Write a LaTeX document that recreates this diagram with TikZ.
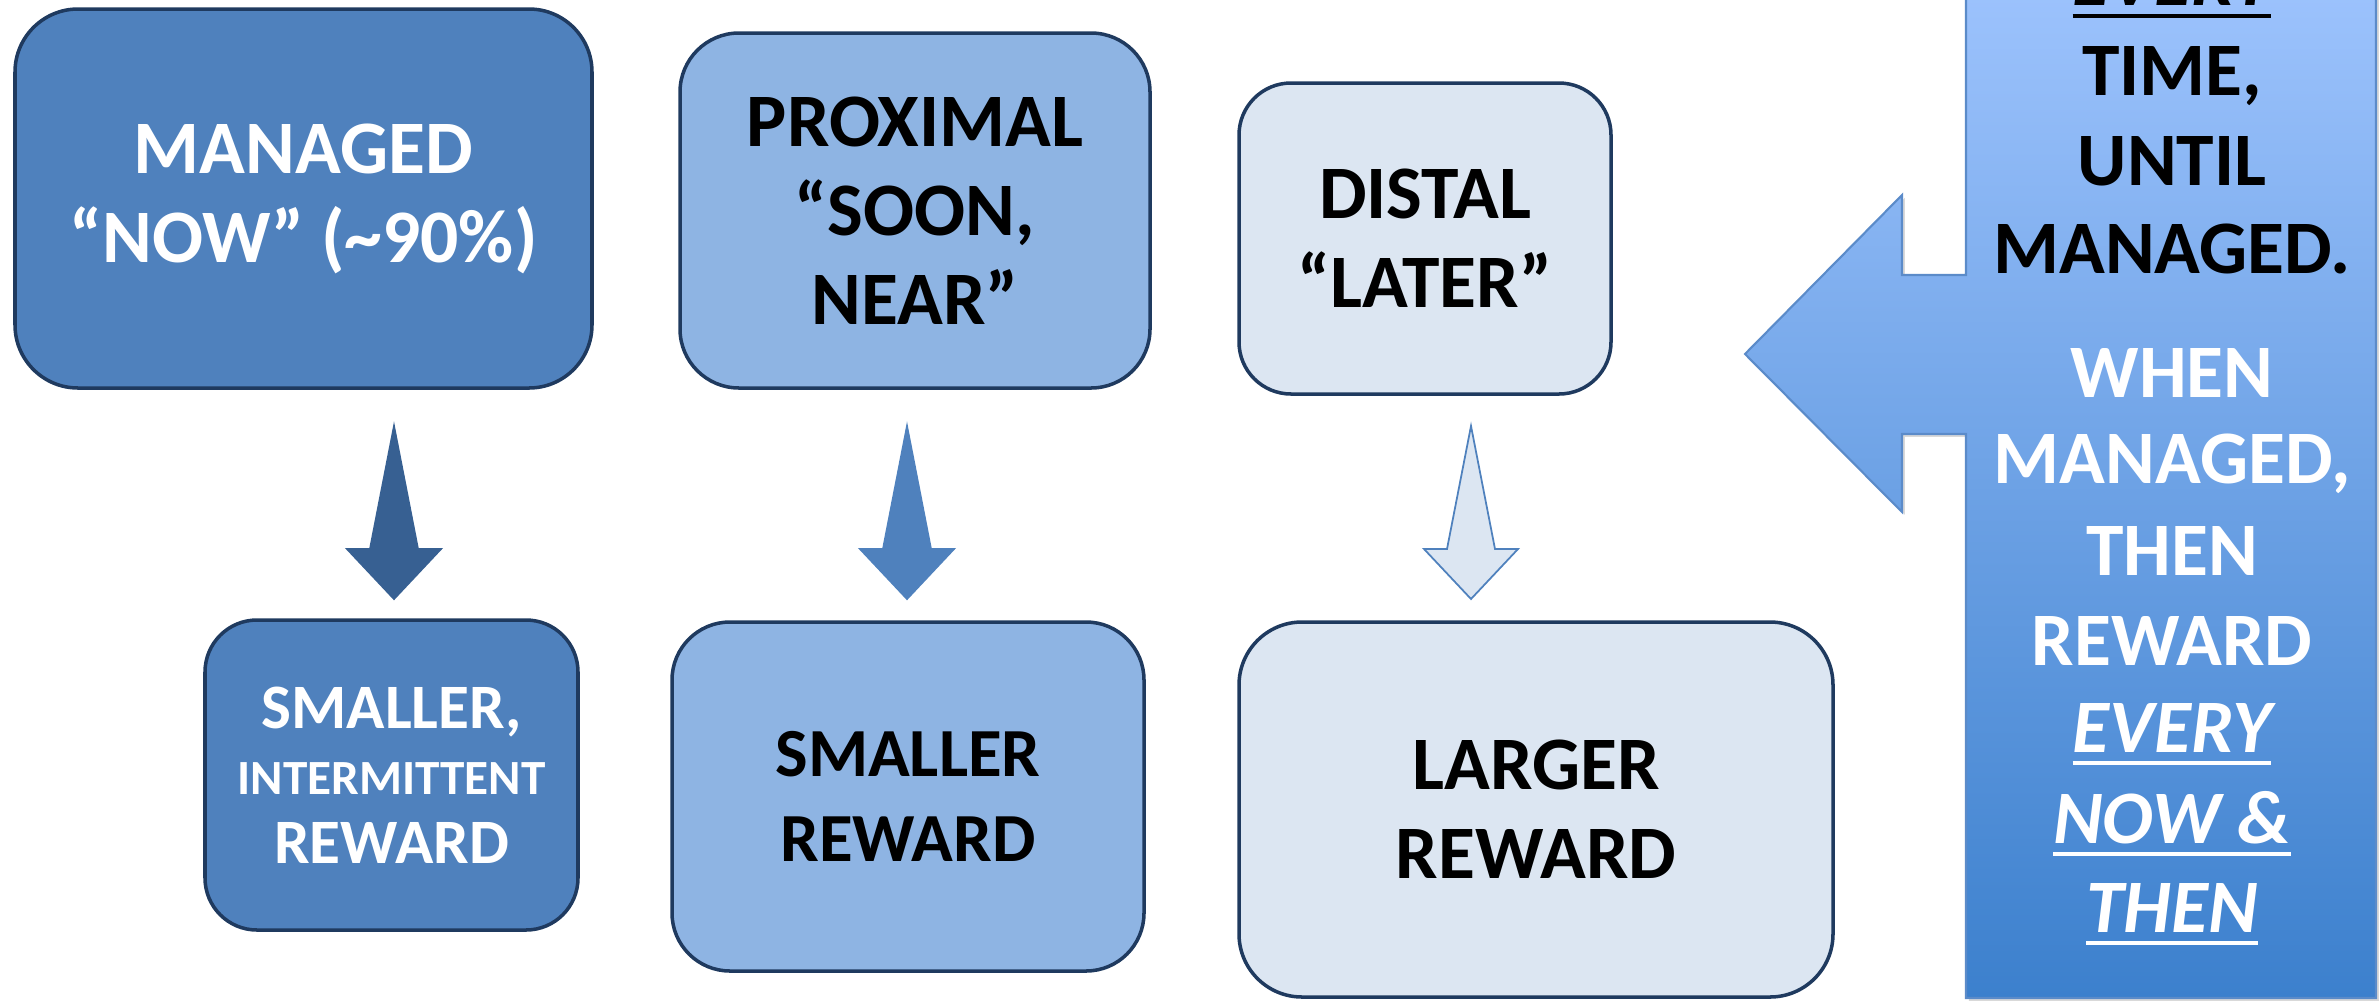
\documentclass[tikz,border=0pt]{standalone}
\usepackage{fontspec}
\setmainfont{Carlito}
\usetikzlibrary{shadows}

\definecolor{boxline}{HTML}{1F3A5F}
\definecolor{darkfill}{HTML}{4F81BD}
\definecolor{midfill}{HTML}{8EB4E3}
\definecolor{lightfill}{HTML}{DCE6F2}
\definecolor{arrowdark}{HTML}{376092}
\definecolor{calloutTop}{HTML}{9DC3FD}
\definecolor{calloutMid}{HTML}{7EAEEB}
\definecolor{calloutBottom}{HTML}{3C80CD}
\definecolor{calloutEdge}{HTML}{5B8BC9}

\newcommand\underword[1]{\setbox0\hbox{#1}\rlap{\rule[-3.8pt]{\wd0}{1.3pt}}\box0}

\tikzset{
  rewardbox/.style={draw=boxline, line width=1pt, align=center, inner sep=0pt,
    font=\fontsize{21.5pt}{25.3pt}\selectfont\bfseries},
  sidetext/.style={anchor=base, font=\fontsize{21.5pt}{25.3pt}\selectfont\bfseries}
}

\begin{document}
\begin{tikzpicture}[x=0.1mm, y=-0.1mm]
\clip (0,0) rectangle (2379,1000);
\useasboundingbox (0,0) rectangle (2379,1000);

% top row
\node[rewardbox, fill=darkfill, text=white, minimum width=57.7mm, minimum height=37.9mm, rounded corners=6.3mm] (managed) at (303.5,198.5) {MANAGED\\“NOW” (\textasciitilde90\%)};
\node[rewardbox, fill=midfill, minimum width=47mm, minimum height=35.5mm, rounded corners=5.9mm] (proximal) at (915,210.5) {PROXIMAL\\“SOON,\\NEAR”};
\node[rewardbox, fill=lightfill, minimum width=37.2mm, minimum height=31.1mm, rounded corners=5.2mm] (distal) at (1425,238.5) {DISTAL\\“LATER”};

% bottom row
\node[rewardbox, fill=darkfill, text=white, minimum width=37.3mm, minimum height=31mm, rounded corners=5.2mm,
  font=\fontsize{18pt}{21pt}\selectfont\bfseries] (smallint) at (391.5,775) {SMALLER,\\[-2.2pt]{\fontsize{14pt}{17pt}\selectfont INTERMITTENT}\\[-1.4pt]REWARD};
\node[rewardbox, fill=midfill, minimum width=47.2mm, minimum height=34.9mm, rounded corners=5.8mm,
  font=\fontsize{19.6pt}{24pt}\selectfont\bfseries] (smaller) at (908,796.5) {SMALLER\\REWARD};
\node[rewardbox, fill=lightfill, minimum width=59.4mm, minimum height=37.5mm, rounded corners=6.3mm] (larger) at (1536,809.5) {LARGER\\REWARD};

% block arrows down
\foreach \cx/\col/\edge in {394/arrowdark/arrowdark, 907/darkfill/darkfill, 1471/lightfill/darkfill}
  \filldraw[fill=\col, draw=\edge, line width=0.5pt] (\cx,426) -- (\cx+24,549) -- (\cx+47,549) -- (\cx,599) -- (\cx-47,549) -- (\cx-24,549) -- cycle;

% callout on the right
\shadedraw[top color=calloutTop, middle color=calloutMid, bottom color=calloutBottom, draw=calloutEdge, line width=0.6pt,
  drop shadow={opacity=0.3, shadow xshift=0.8pt, shadow yshift=-0.8pt}]
  (2376,-20) -- (2376,998) -- (1966,998) -- (1966,434) -- (1902,434) -- (1902,512) -- (1745,354)
  -- (1902,195) -- (1902,275) -- (1966,275) -- (1966,-20) -- cycle;

\foreach \y/\txt [count=\i] in {5/{\itshape\underword{EVERY}}, 95/{TIME,}, 185/UNTIL, 273/MANAGED.}
  \node[sidetext, text=black] (until\i) at (2172,\y) {\txt};
\foreach \y/\txt [count=\i] in {397/WHEN, 483/{MANAGED,}, 575/THEN, 665/REWARD, 752/{\itshape\underword{EVERY}}, 843/{\itshape\underword{NOW \&}}, 932/{\itshape\underword{THEN}}}
  \node[sidetext, text=white] (when\i) at (2172,\y) {\txt};
\end{tikzpicture}
\end{document}
